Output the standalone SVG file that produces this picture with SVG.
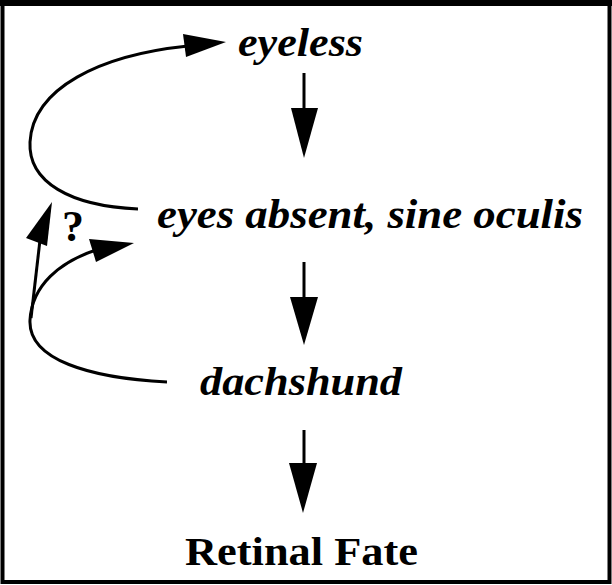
<svg xmlns="http://www.w3.org/2000/svg" width="612" height="585" viewBox="0 0 612 585">
<style>
.lbl{font-family:"Liberation Serif","Times New Roman",serif;font-weight:bold;font-style:italic;fill:#000}
.bold{font-family:"Liberation Serif","Times New Roman",serif;font-weight:bold;fill:#000}
.ln{fill:none;stroke:#000;stroke-width:3}
.hd{fill:#000;stroke:none}
</style>
<rect x="0" y="0" width="612" height="585" fill="#fff"/>
<rect x="2.5" y="4" width="607" height="578" fill="none" stroke="#000" stroke-width="4"/>
<rect x="0" y="0" width="612" height="6" fill="#000"/>
<g id="eyeless"><text class="lbl" x="238" y="56" font-size="40" textLength="125" lengthAdjust="spacingAndGlyphs">eyeless</text></g>
<g id="eyes_absent"><text class="lbl" x="157" y="228" font-size="43" textLength="426" lengthAdjust="spacingAndGlyphs">eyes absent, sine oculis</text></g>
<g id="dachshund"><text class="lbl" x="200" y="395" font-size="41" textLength="202" lengthAdjust="spacingAndGlyphs">dachshund</text></g>
<g id="retinal_fate"><text class="bold" x="185" y="565" font-size="41" textLength="233" lengthAdjust="spacingAndGlyphs">Retinal Fate</text></g>
<g id="question"><text class="bold" x="62" y="241" font-size="44">?</text></g>
<g id="connectors">
<line class="ln" x1="304" y1="73" x2="304" y2="112"/>
<polygon class="hd" points="291,108 318,108 304,158"/>
<line class="ln" x1="304" y1="262" x2="304" y2="300"/>
<polygon class="hd" points="290,297 318,297 304,345"/>
<line class="ln" x1="304" y1="430" x2="304" y2="466"/>
<polygon class="hd" points="289,463 317,463 303,513"/>
<path class="ln" d="M138,209 C70,206 28,182 30,142 C33,88 100,55 188,46"/>
<polygon class="hd" points="183,34 226,42 186,57"/>
<path class="ln" d="M167,382 C90,378 28,360 30,320 C32,285 60,262 96,250"/>
<polygon class="hd" points="89,239 134,243 96,262"/>
<path class="ln" d="M31,318 L40,240"/>
<polygon class="hd" points="52,202 26,238 47,246"/>
</g>
</svg>
